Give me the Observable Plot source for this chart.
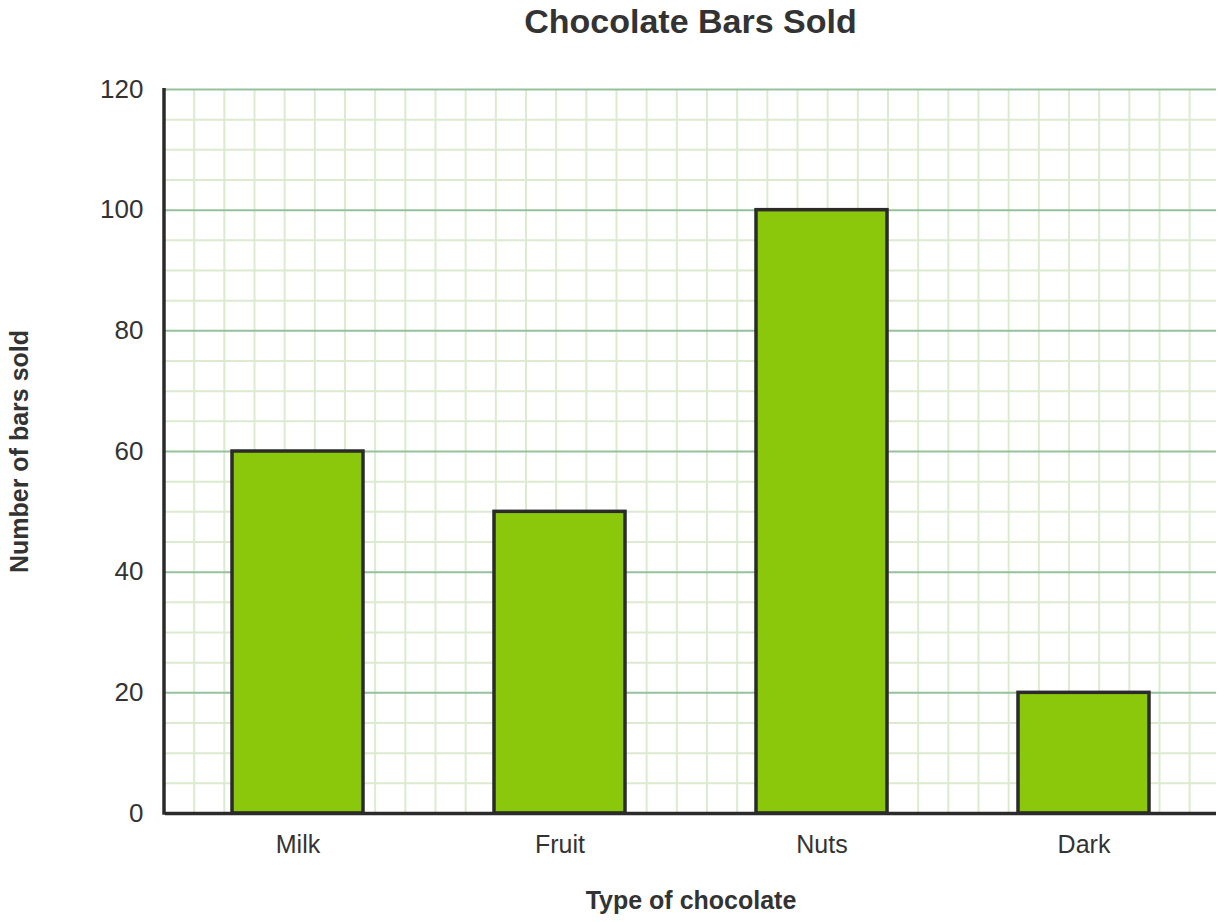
<!DOCTYPE html>
<html><head><meta charset="utf-8">
<script src="https://cdn.jsdelivr.net/npm/d3@7"></script>
<script src="https://cdn.jsdelivr.net/npm/@observablehq/plot@0.6"></script>
<style>
body{margin:0;background:#fff;font-family:"Liberation Sans",Arial,sans-serif;}
#title{height:60px;box-sizing:border-box;padding-top:5px;margin-left:165px;width:1051px;text-align:center;font-size:34px;line-height:33px;font-weight:bold;color:#333;}
#chart svg{display:block;}
</style></head><body>
<div id="title"></div>
<div id="chart"></div>
<script>
const title = "Chocolate Bars Sold";
const categories = ["Milk", "Fruit", "Nuts", "Dark"];
const barsSold = [60, 50, 100, 20];
const yTicks = [0, 20, 40, 60, 80, 100, 120];
const yMinorTicks = [5, 10, 15, 25, 30, 35, 45, 50, 55, 65, 70, 75, 85, 90, 95, 105, 110, 115];
const xLabel = "Type of chocolate";
const yLabel = "Number of bars sold";

document.getElementById("title").textContent = title;
const data = categories.map((c, i) => ({type: c, sold: barsSold[i]}));

const minorColor = "#dcebd0";
const majorColor = "#95c19b";
const inkColor = "#2b2b2b";

// vertical minor grid: square cells matching the 5-unit y step
function verticalGrid(index, scales, values, dim) {
  const step = scales.y(0) - scales.y(5);
  const g = d3.create("svg:g");
  const top = dim.marginTop, bottom = dim.height - dim.marginBottom;
  for (let x = dim.marginLeft - 1 + step; x <= dim.width - dim.marginRight; x += step) {
    g.append("line").attr("x1", x).attr("x2", x).attr("y1", top).attr("y2", bottom)
      .attr("stroke", minorColor).attr("stroke-width", 2);
  }
  return g.node();
}
function leftAxisLine(index, scales, values, dim) {
  const x = dim.marginLeft - 1;
  return d3.create("svg:line").attr("x1", x).attr("x2", x)
    .attr("y1", scales.y(yTicks[yTicks.length - 1]) - 1).attr("y2", scales.y(0) + 1.75)
    .attr("stroke", inkColor).attr("stroke-width", 3.5).node();
}

const plot = Plot.plot({
  width: 1224,
  height: 862,
  marginTop: 29,
  marginBottom: 109,
  marginLeft: 165,
  marginRight: 8,
  style: {fontFamily: "'Liberation Sans', Arial, sans-serif", color: "#333", background: "#fff"},
  x: {domain: categories, paddingInner: 0.5, paddingOuter: 0.25, label: null},
  y: {domain: [0, 120], label: null},
  marks: [
    Plot.ruleY(yMinorTicks, {stroke: minorColor, strokeWidth: 2}),
    verticalGrid,
    Plot.ruleY(yTicks, {stroke: majorColor, strokeWidth: 2}),
    Plot.barY(data, {x: "type", y: "sold", fill: "#8bc70a", stroke: inkColor, strokeWidth: 3.5}),
    Plot.ruleY([0], {stroke: inkColor, strokeWidth: 3.5}),
    leftAxisLine,
    Plot.axisX({tickSize: 0, tickPadding: 22, fontSize: 25, label: null}),
    Plot.axisY({ticks: yTicks, tickSize: 0, tickPadding: 22, fontSize: 26, label: null}),
    Plot.text([xLabel], {frameAnchor: "bottom", lineAnchor: "middle", dy: 87, fontSize: 25, fontWeight: "bold", fill: "#333"}),
    Plot.text([yLabel], {frameAnchor: "left", textAnchor: "middle", lineAnchor: "middle", rotate: -90, dx: -146, fontSize: 25, fontWeight: "bold", fill: "#333"})
  ]
});
document.getElementById("chart").appendChild(plot);
</script>
</body></html>
